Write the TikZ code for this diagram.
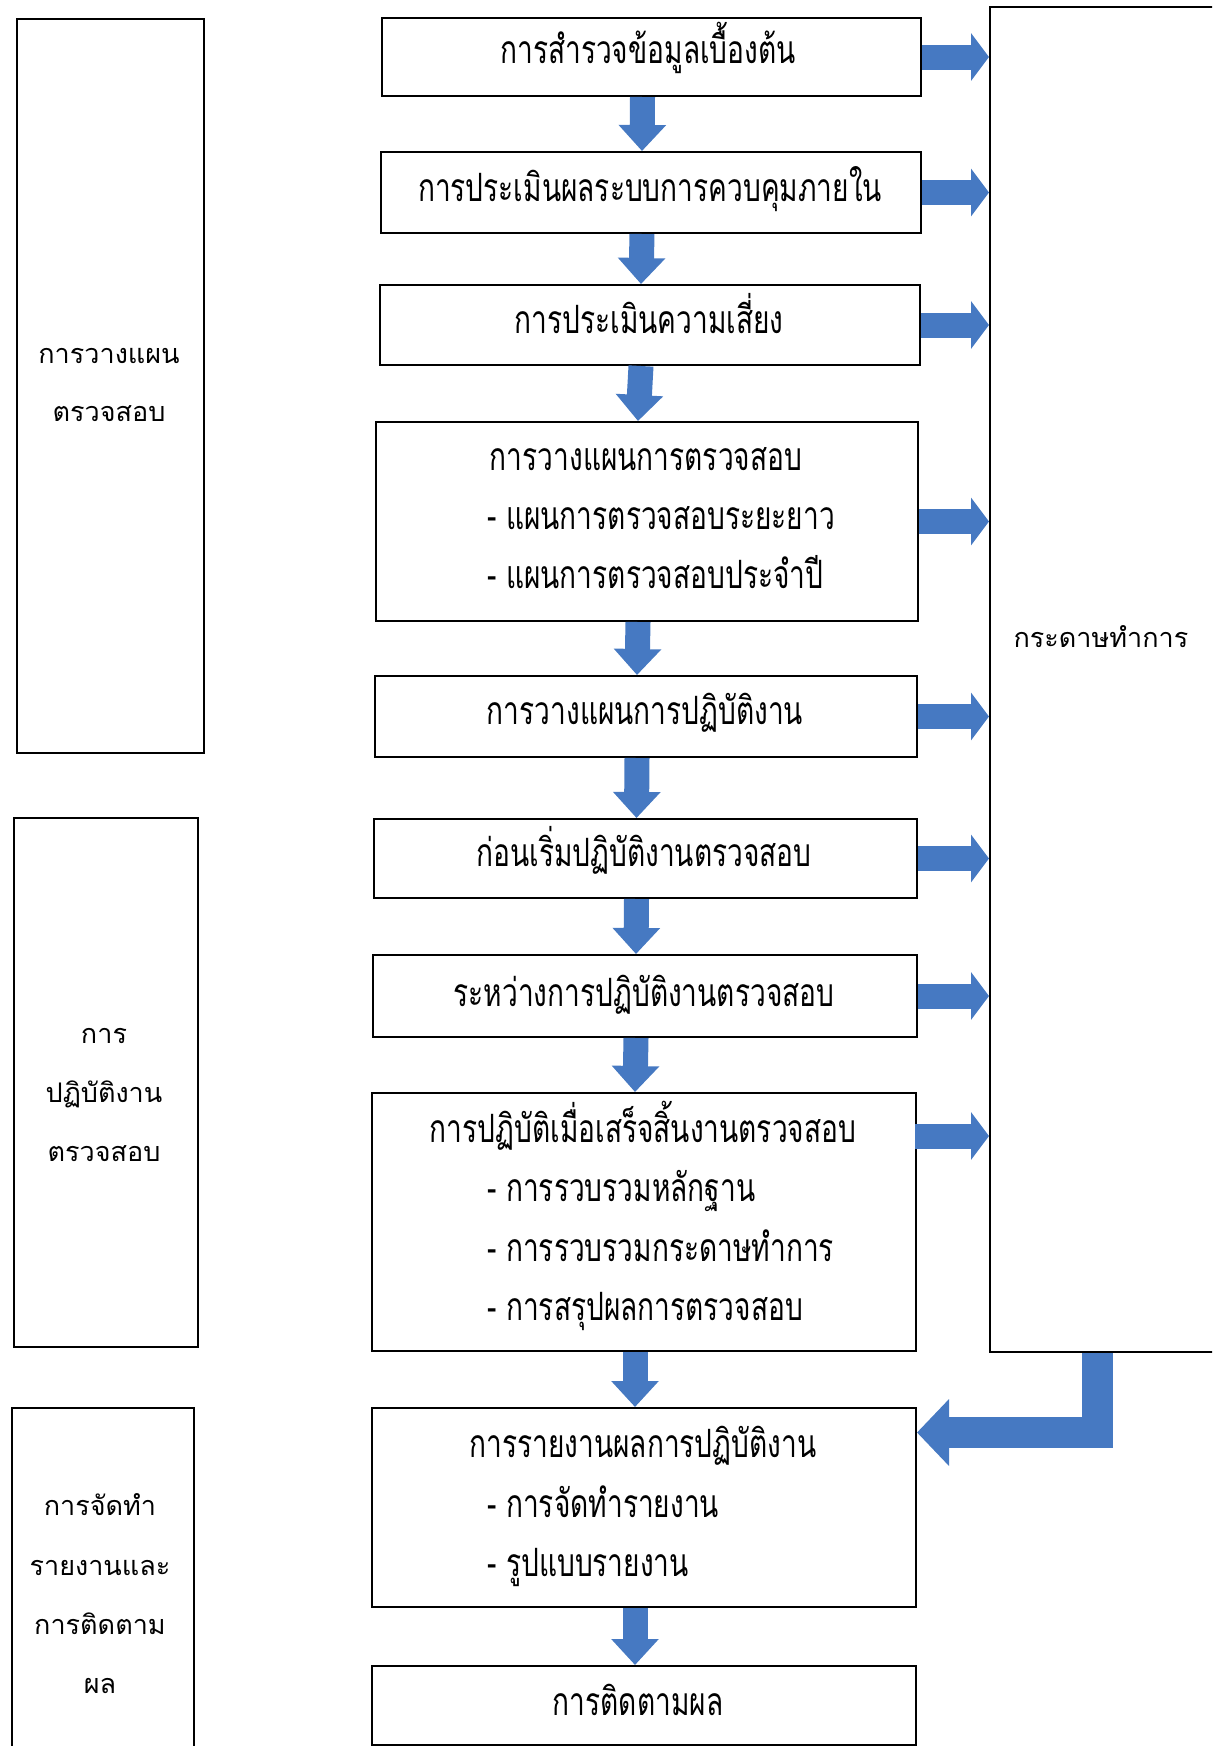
\documentclass[tikz,border=0pt]{standalone}
\usepackage{fontspec}
\newfontfamily\thaiside[Script=Thai]{Loma}
\newfontfamily\thaimain[Script=Thai,FakeStretch=0.72]{Loma}
\usetikzlibrary{arrows.meta}
\definecolor{arrblue}{HTML}{4679C2}
\newcommand\mybox[5]{\node[box,anchor=north west,minimum width={(#4-#2)*0.5pt},minimum height={(#5-#3)*0.5pt}] (#1) at (#2,#3) {};}
\begin{document}
\begin{tikzpicture}[x=0.5pt,y=-0.5pt,
  box/.style={draw,line width=1pt,inner sep=0pt},
  maintxt/.style={inner sep=0pt,anchor=base,font=\thaimain\fontsize{19.5}{22}\selectfont},
  itemtxt/.style={maintxt,anchor=base west},
  sidetxt/.style={inner sep=0pt,anchor=base,font=\thaiside\fontsize{13.5}{16}\selectfont},
  darrow/.style={draw=arrblue,line width=12.5pt,-{Triangle[width=23pt,length=13pt]}},
  rarrow/.style={draw=arrblue,line width=12.5pt,-{Triangle[width=23.5pt,length=9pt]}},
  larrow/.style={draw=arrblue,line width=15.5pt,line join=miter,-{Triangle[width=32.5pt,length=16pt]}}]
\useasboundingbox (0,0) rectangle (1212,1746);
\clip (0,0) rectangle (1212,1746);
% left phase boxes
\mybox{pa}{16}{18}{203}{752}
\mybox{pb}{13}{817}{197}{1346}
\mybox{pc}{11}{1407}{193}{1770}
\node[sidetxt] (ta1) at (109,363) {การวางแผน};
\node[sidetxt] (ta2) at (109,421) {ตรวจสอบ};
\node[sidetxt] (tb1) at (104,1043) {การ};
\node[sidetxt] (tb2) at (104,1102) {ปฏิบัติงาน};
\node[sidetxt] (tb3) at (104,1161) {ตรวจสอบ};
\node[sidetxt] (tc1) at (100,1515) {การจัดทำ};
\node[sidetxt] (tc2) at (100,1575) {รายงานและ};
\node[sidetxt] (tc3) at (100,1634) {การติดตาม};
\node[sidetxt] (tc4) at (100,1693) {ผล};
% working paper box
\mybox{wp}{989}{6}{1240}{1351}
\node[sidetxt] (twp) at (1101,647) {กระดาษทำการ};
% main boxes
\mybox{b1}{381}{17}{920}{95}
\mybox{b2}{380}{151}{920}{232}
\mybox{b3}{379}{284}{919}{364}
\mybox{b4}{375}{421}{917}{620}
\mybox{b5}{374}{675}{916}{756}
\mybox{b6}{373}{818}{916}{897}
\mybox{b7}{372}{954}{916}{1036}
\mybox{b8}{371}{1092}{915}{1350}
\mybox{b9}{371}{1407}{915}{1606}
\mybox{b10}{371}{1665}{915}{1744}
\node[maintxt] (t1) at (648,63) {การสำรวจข้อมูลเบื้องต้น};
\node[maintxt] (t2) at (650,201) {การประเมินผลระบบการควบคุมภายใน};
\node[maintxt] (t3) at (649,333) {การประเมินความเสี่ยง};
\node[maintxt] (t4a) at (646,470) {การวางแผนการตรวจสอบ};
\node[itemtxt] (t4b) at (487,529) {- แผนการตรวจสอบระยะยาว};
\node[itemtxt] (t4c) at (487,588) {- แผนการตรวจสอบประจำปี};
\node[maintxt] (t5) at (645,724) {การวางแผนการปฏิบัติงาน};
\node[maintxt] (t6) at (644,866) {ก่อนเริ่มปฏิบัติงานตรวจสอบ};
\node[maintxt] (t7) at (644,1006) {ระหว่างการปฏิบัติงานตรวจสอบ};
\node[maintxt] (t8a) at (643,1142) {การปฏิบัติเมื่อเสร็จสิ้นงานตรวจสอบ};
\node[itemtxt] (t8b) at (487,1201) {- การรวบรวมหลักฐาน};
\node[itemtxt] (t8c) at (487,1261) {- การรวบรวมกระดาษทำการ};
\node[itemtxt] (t8d) at (487,1320) {- การสรุปผลการตรวจสอบ};
\node[maintxt] (t9a) at (643,1457) {การรายงานผลการปฏิบัติงาน};
\node[itemtxt] (t9b) at (487,1517) {- การจัดทำรายงาน};
\node[itemtxt] (t9c) at (487,1576) {- รูปแบบรายงาน};
\node[maintxt] (t10) at (638,1715) {การติดตามผล};
% down arrows
\foreach \a/\b in {b1/b2,b2/b3,b3/b4,b4/b5,b5/b6,b6/b7,b7/b8,b8/b9,b9/b10}
  \draw[darrow] ([xshift=-4.5pt]\a.south) -- ([xshift=-4.5pt]\b.north);
% right arrows
\foreach \a in {b1,b2,b3,b4,b5,b6,b7}
  \draw[rarrow] (\a.east) -- (wp.west |- \a.east);
\coordinate (c8) at (915,1136);
\draw[rarrow] (c8) -- (wp.west |- c8);
% L arrow back to reporting
\coordinate (lc) at (1097.5,1432.5);
\draw[larrow] (wp.south -| lc) -- (lc) -- (b9.east |- lc);
\end{tikzpicture}
\end{document}
